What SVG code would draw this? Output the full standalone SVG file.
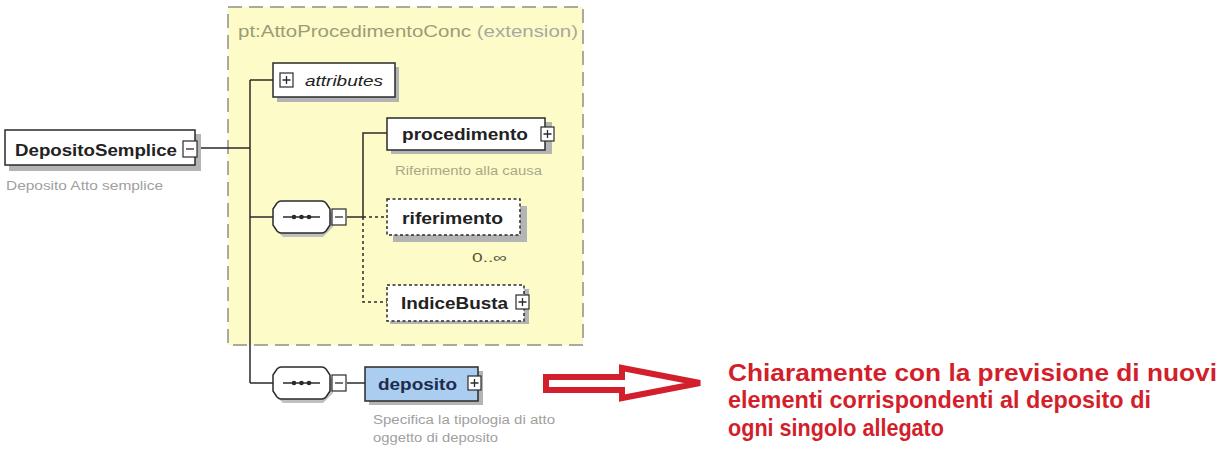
<svg xmlns="http://www.w3.org/2000/svg" width="1220" height="450" viewBox="0 0 1220 450">
<defs>
<style>
.box{fill:#fff;stroke:#2a2a2a;stroke-width:1.5}
.dbox{fill:#fff;stroke:#2a2a2a;stroke-width:1.5;stroke-dasharray:3 2.5}
.shadow{fill:#b4b4b4}
.lbl{font-family:"Liberation Sans",Arial,sans-serif;font-weight:bold;font-size:17px;fill:#222}
.cap{font-family:"Liberation Sans",Arial,sans-serif;font-size:12.5px;fill:#a0a0a0}
.capy{font-family:"Liberation Sans",Arial,sans-serif;font-size:12.5px;fill:#a8a888}
.ln{stroke:#2a2a2a;stroke-width:1.5;fill:none}
.dot{stroke:#2a2a2a;stroke-width:1.5;fill:none;stroke-dasharray:3 3}
.icon{fill:#fff;stroke:#2a2a2a;stroke-width:1.2}
.red{font-family:"Liberation Sans",Arial,sans-serif;font-weight:bold;font-size:24px;fill:#d21f2b}
</style>
<g id="plus"><rect class="icon" x="0" y="0" width="13" height="14"/><path d="M2.5 7H10.5M6.5 3V11" stroke="#2a2a2a" stroke-width="1.3"/></g>
<g id="minus"><rect class="icon" x="0" y="0" width="14" height="16"/><path d="M3 8H11" stroke="#2a2a2a" stroke-width="1.3"/></g>
<g id="seq">
<path d="M3 3 H50 L60 13 V26 L50 36 H10 L3 29 Z" fill="#c0c0c0"/>
<path d="M8 0 H49 Q51 0 53 2 L57 8 V24 L53 30 Q51 32 49 32 H8 Q6 32 4 30 L0 24 V8 L4 2 Q6 0 8 0 Z" fill="#fff" stroke="#2a2a2a" stroke-width="1.5"/>
<path d="M10 16 H47" stroke="#2a2a2a" stroke-width="1.5"/>
<circle cx="21" cy="16" r="2.3" fill="#2a2a2a"/><circle cx="28.5" cy="16" r="2.3" fill="#2a2a2a"/><circle cx="36" cy="16" r="2.3" fill="#2a2a2a"/>
</g>
</defs>
<rect width="1220" height="450" fill="#fff"/>

<g id="extension">
<rect x="228" y="7" width="355" height="338" fill="#fdfcc9" stroke="#8e8e84" stroke-width="1.5" stroke-dasharray="14 7"/>
<text x="238" y="37" font-family="Liberation Sans,Arial,sans-serif" font-size="16.5px" textLength="340" lengthAdjust="spacingAndGlyphs"><tspan fill="#9c9c74">pt:AttoProcedimentoConc</tspan><tspan fill="#a8a8a0"> (extension)</tspan></text>
</g>

<g id="connectors">
<path class="ln" d="M197 148 H250 M250 80 V383 M250 80 H273 M250 217 H273 M250 383 H273"/>
<path class="ln" d="M347 217 H363 V133 H387"/>
<path class="dot" d="M363 217 H387 M363 217 V302 H387"/>
<path class="ln" d="M347 383 H365"/>
</g>

<g id="DepositoSemplice">
<rect class="shadow" x="9" y="134" width="192" height="37"/>
<rect class="box" x="5" y="130" width="190" height="35"/>
<text class="lbl" x="15" y="156" textLength="162" lengthAdjust="spacingAndGlyphs">DepositoSemplice</text>
<use href="#minus" x="183" y="141"/>
<text class="cap" x="6" y="190" textLength="157" lengthAdjust="spacingAndGlyphs">Deposito Atto semplice</text>
</g>

<g id="attributes">
<rect class="shadow" x="277" y="67" width="122" height="35"/>
<rect class="box" x="273" y="63" width="122" height="34"/>
<use href="#plus" x="280" y="73"/>
<text x="305" y="86" font-family="Liberation Sans,Arial,sans-serif" font-style="italic" font-size="15px" fill="#222" textLength="78" lengthAdjust="spacingAndGlyphs">attributes</text>
</g>

<g id="sequence1">
<use href="#seq" x="273" y="201"/>
<use href="#minus" x="332" y="209"/>
</g>

<g id="procedimento">
<rect class="shadow" x="391" y="122" width="161" height="32"/>
<rect class="box" x="387" y="118" width="158" height="32"/>
<text class="lbl" x="402" y="140" textLength="126" lengthAdjust="spacingAndGlyphs">procedimento</text>
<use href="#plus" x="541" y="127"/>
<text class="capy" x="395" y="175" textLength="147" lengthAdjust="spacingAndGlyphs">Riferimento alla causa</text>
</g>

<g id="riferimento">
<rect class="shadow" x="393" y="206" width="134" height="36"/>
<rect class="dbox" x="387" y="199" width="133" height="36"/>
<text class="lbl" x="402" y="224" textLength="101" lengthAdjust="spacingAndGlyphs">riferimento</text>
<text x="472" y="262" font-family="Liberation Sans,Arial,sans-serif" font-size="13px" fill="#55553a" textLength="35" lengthAdjust="spacingAndGlyphs">0..∞</text>
</g>

<g id="IndiceBusta">
<rect class="shadow" x="390" y="289" width="139" height="35"/>
<rect class="dbox" x="387" y="285" width="137" height="36"/>
<text class="lbl" x="401" y="309" textLength="107" lengthAdjust="spacingAndGlyphs">IndiceBusta</text>
<use href="#plus" x="516" y="295"/>
</g>

<g id="sequence2">
<use href="#seq" x="273" y="367"/>
<use href="#minus" x="332" y="375"/>
</g>

<g id="deposito">
<rect class="shadow" x="369" y="371" width="114" height="34"/>
<rect x="365" y="367" width="113" height="34" fill="#abcdf0" stroke="#2a2a2a" stroke-width="1.5"/>
<text x="378" y="390" font-family="Liberation Sans,Arial,sans-serif" font-weight="bold" font-size="17px" fill="#1c2c4c" textLength="79" lengthAdjust="spacingAndGlyphs">deposito</text>
<use href="#plus" x="468" y="376"/>
<text class="cap" x="373" y="424" textLength="182" lengthAdjust="spacingAndGlyphs">Specifica la tipologia di atto</text>
<text class="cap" x="373" y="442" textLength="125" lengthAdjust="spacingAndGlyphs">oggetto di deposito</text>
</g>

<g id="note">
<path d="M546 377 H622 V368 L700 383 L622 398 V390 H546 Z" fill="#fff" stroke="#d21f2b" stroke-width="6" stroke-linejoin="miter"/>
<text class="red" x="728" y="381" textLength="489" lengthAdjust="spacingAndGlyphs">Chiaramente con la previsione di nuovi</text>
<text class="red" x="728" y="408" textLength="423" lengthAdjust="spacingAndGlyphs">elementi corrispondenti al deposito di</text>
<text class="red" x="728" y="436" textLength="216" lengthAdjust="spacingAndGlyphs">ogni singolo allegato</text>
</g>
</svg>
